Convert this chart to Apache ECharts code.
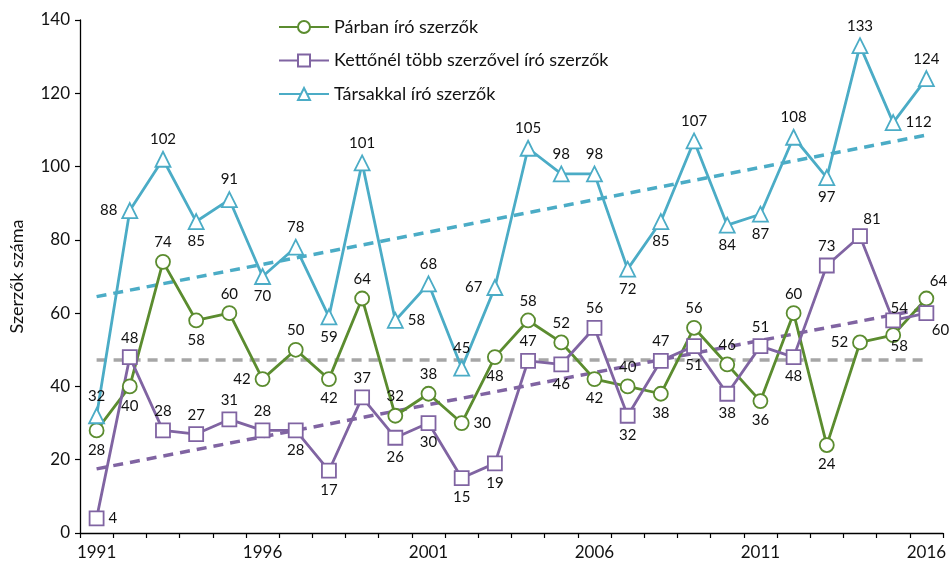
<!DOCTYPE html>
<html>
<head>
<meta charset="utf-8">
<script src="https://cdn.jsdelivr.net/npm/echarts@6/dist/echarts.min.js"></script>
<style>
  html, body { margin: 0; padding: 0; background: #fff; }
  #main { width: 949px; height: 566px; }
</style>
</head>
<body>
<div id="main"></div>
<script>
// évek
var years = ['1991','1992','1993','1994','1995','1996','1997','1998','1999','2000','2001','2002','2003',
             '2004','2005','2006','2007','2008','2009','2010','2011','2012','2013','2014','2015','2016'];

var parban = [28, 40, 74, 58, 60, 42, 50, 42, 64, 32, 38, 30, 48, 58, 52, 42, 40, 38, 56, 46, 36, 60, 24, 52, 54, 64];
var kettonel = [4, 48, 28, 27, 31, 28, 28, 17, 37, 26, 30, 15, 19, 47, 46, 56, 32, 47, 51, 38, 51, 48, 73, 81, 58, 60];
var tarsakkal = [32, 88, 102, 85, 91, 70, 78, 59, 101, 58, 68, 45, 67, 105, 98, 98, 72, 85, 107, 84, 87, 108, 97, 133, 112, 124];

// trendvonalak végpontjai (1991, 2016)
var parbanTrend = [47.2, 47.2];
var kettonelTrend = [17.5, 61.3];
var tarsakkalTrend = [64.5, 108.6];

var yTicks = [0, 20, 40, 60, 80, 100, 120, 140];

// címkék helye
var parbanPos = ['bottom','bottom','top','bottom','top','left','top','bottom','top','top','top','right','bottom',
                 'top','top','bottom','top','bottom','top','top','bottom','top','bottom','left','up2','topRight'];
var kettonelPos = ['right','top','top','top','top','top','bottom','bottom','top','bottom','bottom','bottom','bottom',
                   'top','bottom','top','bottom','top','bottom','bottom','top','bottom','top','topRight','down2','bottomRight'];
var tarsakkalPos = ['top','left','top','bottom','top','bottom','top','bottom','top','right','top','top','left',
                    'top','top','top','bottom','bottom','top','bottom','bottom','top','bottom','top','right','top'];

var colGreen = '#5b8c2f';
var colPurple = '#8064a2';
var colBlue = '#4bacc6';
var colGray = '#a6a6a6';

function labelFor(p) {
    if (p === 'topRight') return { position: 'top', offset: [12, 2] };
    if (p === 'bottomRight') return { position: 'bottom', offset: [14, -2] };
    if (p === 'up2') return { position: 'top', offset: [6, -8] };
    if (p === 'down2') return { position: 'bottom', offset: [6, 6] };
    return { position: p };
}

function withLabels(vals, pos) {
    return vals.map(function (v, i) {
        return { value: v, label: labelFor(pos[i]) };
    });
}

function mainSeries(name, vals, pos, color, symbol, size) {
    return {
        name: name,
        type: 'line',
        data: withLabels(vals, pos),
        symbol: symbol,
        symbolSize: size,
        showAllSymbol: true,
        z: 3,
        lineStyle: { color: color, width: 2.8 },
        itemStyle: { color: '#fff', borderColor: color, borderWidth: 1.8 },
        label: {
            show: true,
            color: '#111',
            fontFamily: 'Lato',
            fontSize: 15,
            distance: 4
        },
        emphasis: { disabled: true }
    };
}

function trendSeries(vals, color) {
    return {
        type: 'line',
        data: [[years[0], vals[0]], [years[years.length - 1], vals[1]]],
        symbol: 'none',
        z: 2,
        lineStyle: { color: color, width: 3.5, type: [10, 7] },
        emphasis: { disabled: true },
        silent: true
    };
}

var myChart = echarts.init(document.getElementById('main'));
var option = {
    animation: false,
    textStyle: { fontFamily: 'Lato' },
    grid: { left: 78, right: 3, top: 20, bottom: 33 },
    legend: {
        data: ['Párban író szerzők', 'Kettőnél több szerzővel író szerzők', 'Társakkal író szerzők'],
        orient: 'vertical',
        left: 273,
        top: 13,
        itemWidth: 50,
        itemHeight: 15,
        itemGap: 15.5,
        textStyle: { fontSize: 18, color: '#111', fontFamily: 'Lato' }
    },
    xAxis: {
        type: 'category',
        data: years,
        boundaryGap: true,
        axisLine: { lineStyle: { color: '#000', width: 1.3 } },
        axisTick: { show: true, interval: 0, length: 5, lineStyle: { color: '#000', width: 1.2 } },
        axisLabel: { interval: 4, color: '#111', fontSize: 17, margin: 11 }
    },
    yAxis: {
        type: 'value',
        min: yTicks[0],
        max: yTicks[yTicks.length - 1],
        interval: 20,
        name: 'Szerzők száma',
        nameLocation: 'middle',
        nameGap: 54,
        nameTextStyle: { fontSize: 18, color: '#111' },
        splitLine: { show: false },
        axisLine: { show: true, lineStyle: { color: '#000', width: 1.3 } },
        axisTick: { show: true, length: 5, lineStyle: { color: '#000', width: 1.2 } },
        axisLabel: { color: '#111', fontSize: 17, margin: 10 }
    },
    series: [
        trendSeries(parbanTrend, colGray),
        trendSeries(kettonelTrend, colPurple),
        trendSeries(tarsakkalTrend, colBlue),
        mainSeries('Párban író szerzők', parban, parbanPos, colGreen, 'circle', 14),
        mainSeries('Kettőnél több szerzővel író szerzők', kettonel, kettonelPos, colPurple, 'rect', 14),
        mainSeries('Társakkal író szerzők', tarsakkal, tarsakkalPos, colBlue, 'triangle', 15)
    ]
};
myChart.setOption(option);
</script>
</body>
</html>
